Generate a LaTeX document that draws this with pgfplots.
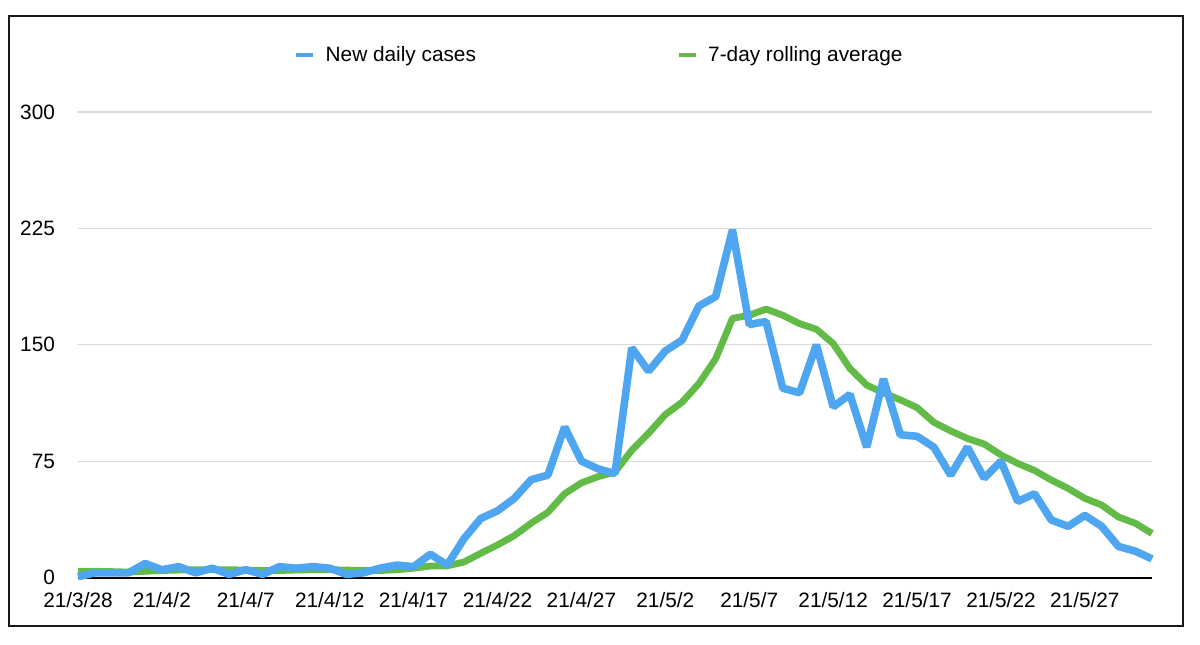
\documentclass[border=0pt]{standalone}
\usepackage{fontspec}
\setmainfont{Liberation Sans}
\usepackage{pgfplots}
\pgfplotsset{compat=1.18}
\definecolor{cblue}{RGB}{78,166,240}
\definecolor{cgreen}{RGB}{98,187,70}
\begin{document}
\begin{tikzpicture}[x=1pt,y=1pt]
\useasboundingbox (0,0) rectangle (600,322);
\fill[white] (0,0) rectangle (600,322);
\draw[black!90, line width=1.3pt] (4.5,9) rectangle (591.5,314);
\begin{axis}[
  at={(39pt,33.25pt)}, anchor=south west,
  scale only axis, width=537pt, height=232.75pt,
  xmin=0, xmax=64, ymin=0, ymax=300,
  clip=false,
  axis x line*=bottom, axis y line*=left,
  y axis line style={draw=none},
  x axis line style={line width=1pt, -},
  major tick length=0pt,
  ytick={0,75,150,225,300},
  ymajorgrids, grid style={black!15, line width=0.6pt},
  xtick={0,5,...,60},
  xticklabels={21/3/28,21/4/2,21/4/7,21/4/12,21/4/17,21/4/22,21/4/27,21/5/2,21/5/7,21/5/12,21/5/17,21/5/22,21/5/27},
  /pgf/number format/assume math mode=true,
  every tick label/.append style={font=\fontsize{10.4}{12}\selectfont},
  yticklabel style={xshift=-8pt},
  xticklabel style={yshift=-4pt},
  legend columns=2,
  reverse legend,
  legend style={draw=none, fill=none, at={(axis description cs:0.4865,1.1225)}, anchor=center,
    font=\fontsize{10.4}{12}\selectfont,
    /tikz/every odd column/.append style={column sep=3.5pt},
    /tikz/every even column/.append style={column sep=98.5pt}},
  legend image code/.code={\draw[#1, line width=1.6pt, line cap=butt] (0pt,0pt) -- (8.5pt,0pt);},
]
\addplot[cgreen, line width=3.4pt, line join=bevel] coordinates {
(0,4)(1,4)(2,3.8)(3,3.5)(4,4)(5,4.5)(6,4.8)(7,5)(8,5)(9,5)(10,4.8)(11,4.5)(12,4.5)(13,4.8)(14,5)(15,5)(16,4.8)(17,4.5)(18,4.5)(19,5)(20,6)(21,7.4)(22,7.5)(23,10)(24,15.6)(25,21)(26,27)(27,35)(28,42)(29,54)(30,61)(31,65)(32,68)(33,82)(34,93)(35,105)(36,113)(37,125)(38,141)(39,167)(40,169)(41,173)(42,169)(43,163.6)(44,160)(45,150.8)(46,134.7)(47,124)(48,119)(49,114.5)(50,109.5)(51,100)(52,94.5)(53,89.6)(54,86)(55,79)(56,73.5)(57,69)(58,62.8)(59,57.4)(60,51)(61,46.7)(62,39)(63,35)(64,28.4)
};
\addlegendentry{7-day rolling average}
\addplot[cblue, line width=3.8pt, line join=bevel] coordinates {
(0,0.5)(1,3)(2,3)(3,3)(4,9)(5,5)(6,7)(7,3)(8,6)(9,2)(10,5)(11,2)(12,7)(13,6)(14,7)(15,6)(16,2)(17,3)(18,6)(19,8)(20,7)(21,15)(22,8)(23,25)(24,38)(25,43)(26,51)(27,63)(28,66)(29,97)(30,75)(31,70)(32,67)(33,148)(34,133)(35,146)(36,153)(37,175)(38,181)(39,224)(40,163)(41,165)(42,122)(43,119)(44,150)(45,110)(46,118)(47,84)(48,128)(49,92)(50,91)(51,84)(52,66)(53,84)(54,64)(55,75)(56,49)(57,54)(58,37)(59,33)(60,40)(61,33)(62,20)(63,17)(64,12)
};
\addlegendentry{New daily cases}
\end{axis}
\end{tikzpicture}
\end{document}
